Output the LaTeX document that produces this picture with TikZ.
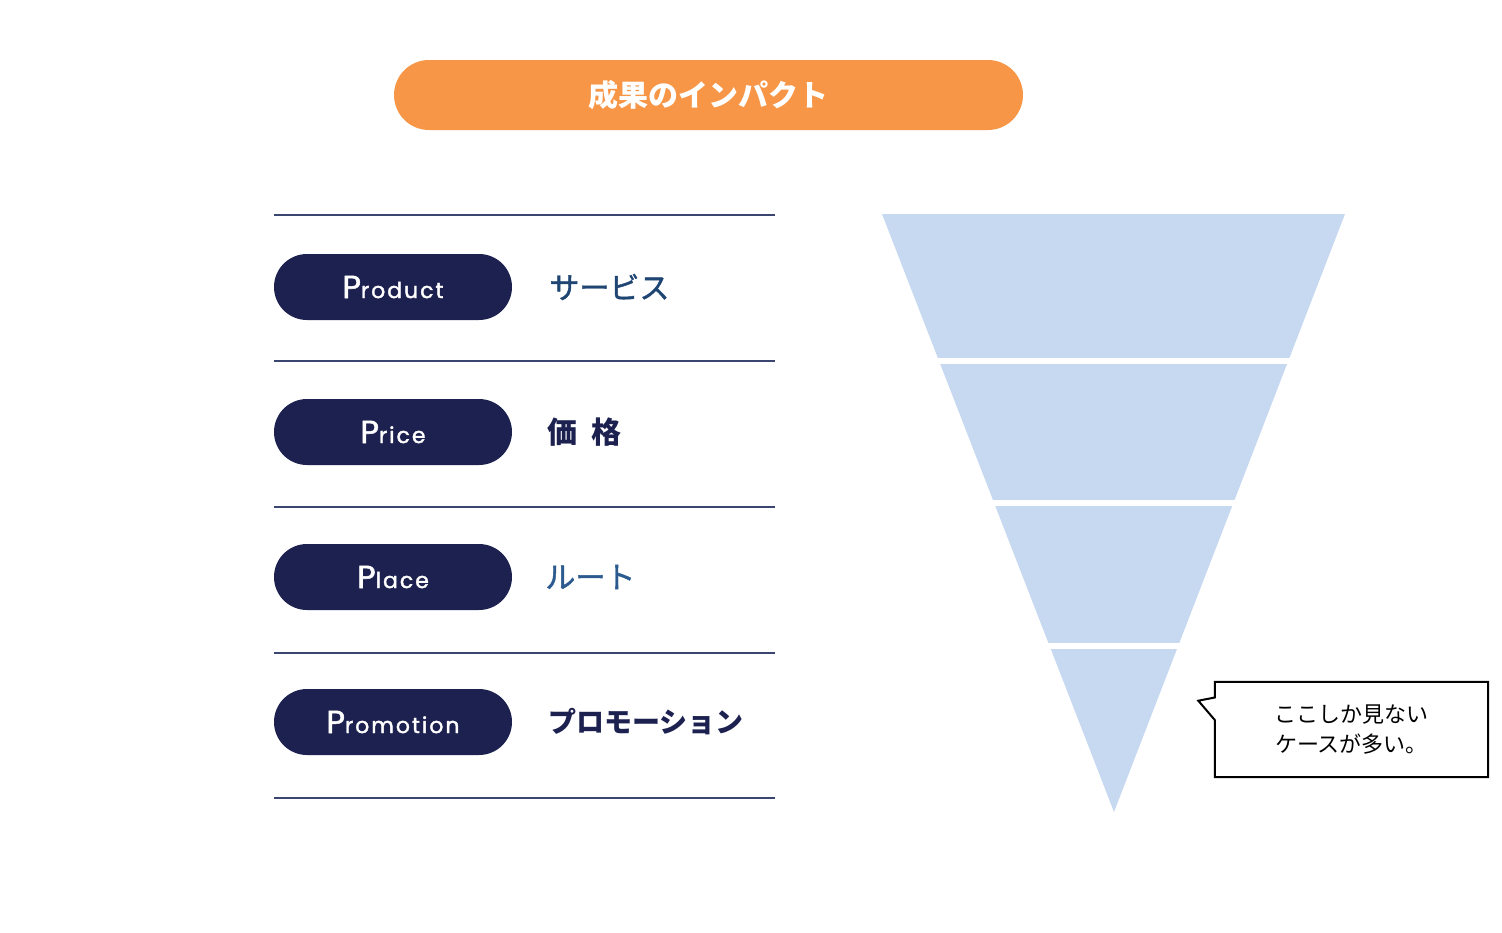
\documentclass[tikz,border=0pt]{standalone}
\usepackage{fontspec}
\setmainfont{Noto Sans CJK JP}
\newfontfamily\pillfont{Poppins}[LetterSpace=9,FakeBold=1.6]
\newfontfamily\midfont{Noto Sans CJK JP}[FakeBold=1.4]
\usetikzlibrary{positioning}

\definecolor{navy}{HTML}{1C2150}
\definecolor{rulecol}{HTML}{3B4670}
\definecolor{orangebar}{HTML}{F79646}
\definecolor{funnelblue}{HTML}{C6D9F0}
\definecolor{labelblue}{HTML}{1F4573}
\definecolor{routeblue}{HTML}{2B5A8E}

\newcommand\bigP[1]{{\fontsize{32}{32}\selectfont P}{\fontsize{22}{22}\selectfont #1}}

\begin{document}
\begin{tikzpicture}[x=1pt,y=-1pt,
  titlebar/.style={fill=orangebar,text=white,rounded corners=35pt,
    minimum width=629pt,minimum height=70pt,font=\fontsize{30}{30}\selectfont\bfseries},
  pill/.style={fill=navy,text=white,rounded corners=33pt,
    minimum width=238pt,minimum height=66pt,font=\pillfont},
  lbl/.style={inner sep=0pt,font=\fontsize{30}{30}\selectfont\midfont},
  rulel/.style={draw=rulecol,line width=2pt}]
  \useasboundingbox (0,0) rectangle (1502,932);

  % --- Title bar ---
  \node (title) [titlebar] at (708.5,95) {成果のインパクト};

  % --- Rules between the rows ---
  \foreach \y in {215,361,507,653,798}
    \draw[rulel] (274,\y) -- (775,\y);

  % --- 4P pills ---
  \node (pProduct) [pill] at (393,287) {\bigP{roduct}};
  \node (pPrice) [pill] at (393,432) {\bigP{rice}};
  \node (pPlace) [pill] at (393,577) {\bigP{lace}};
  \node (pPromotion) [pill] at (393,722) {\bigP{romotion}};

  % --- Japanese labels placed relative to the pills ---
  \node (tProduct) [lbl,text=labelblue,right=37pt of pProduct] {サービス};
  \node (tPrice) [lbl,text=navy,font=\fontsize{30}{30}\selectfont\bfseries,right=35pt of pPrice] {価\hspace{14pt}格};
  \node (tPlace) [lbl,text=routeblue,right=33pt of pPlace] {ルート};
  \node (tPromotion) [lbl,text=navy,font=\fontsize{28}{28}\selectfont\bfseries,right=36pt of pPromotion] {プロモーション};

  % --- Funnel ---
  \begin{scope}
    \clip (882,214) -- (1345,214) -- (1114,812) -- cycle;
    \foreach \top/\bot in {214/357.5,363.7/500,506/643,649/812}
      \fill[funnelblue] (800,\top) rectangle (1400,\bot);
  \end{scope}

  % --- Callout ---
  \node (note) [minimum width=273pt,minimum height=95pt,align=center,
    font=\fontsize{22}{30}\selectfont] at (1351.5,729.5) {ここしか見ない\\ケースが多い。};
  \coordinate (tip) at (1198.3,700.7);
  \draw[line width=2pt] (note.north west) -- (note.north east) -- (note.south east)
    -- (note.south west) -- ([yshift=9.5pt]note.west) -- (tip)
    -- ([yshift=32pt]note.west) -- cycle;
\end{tikzpicture}
\end{document}
